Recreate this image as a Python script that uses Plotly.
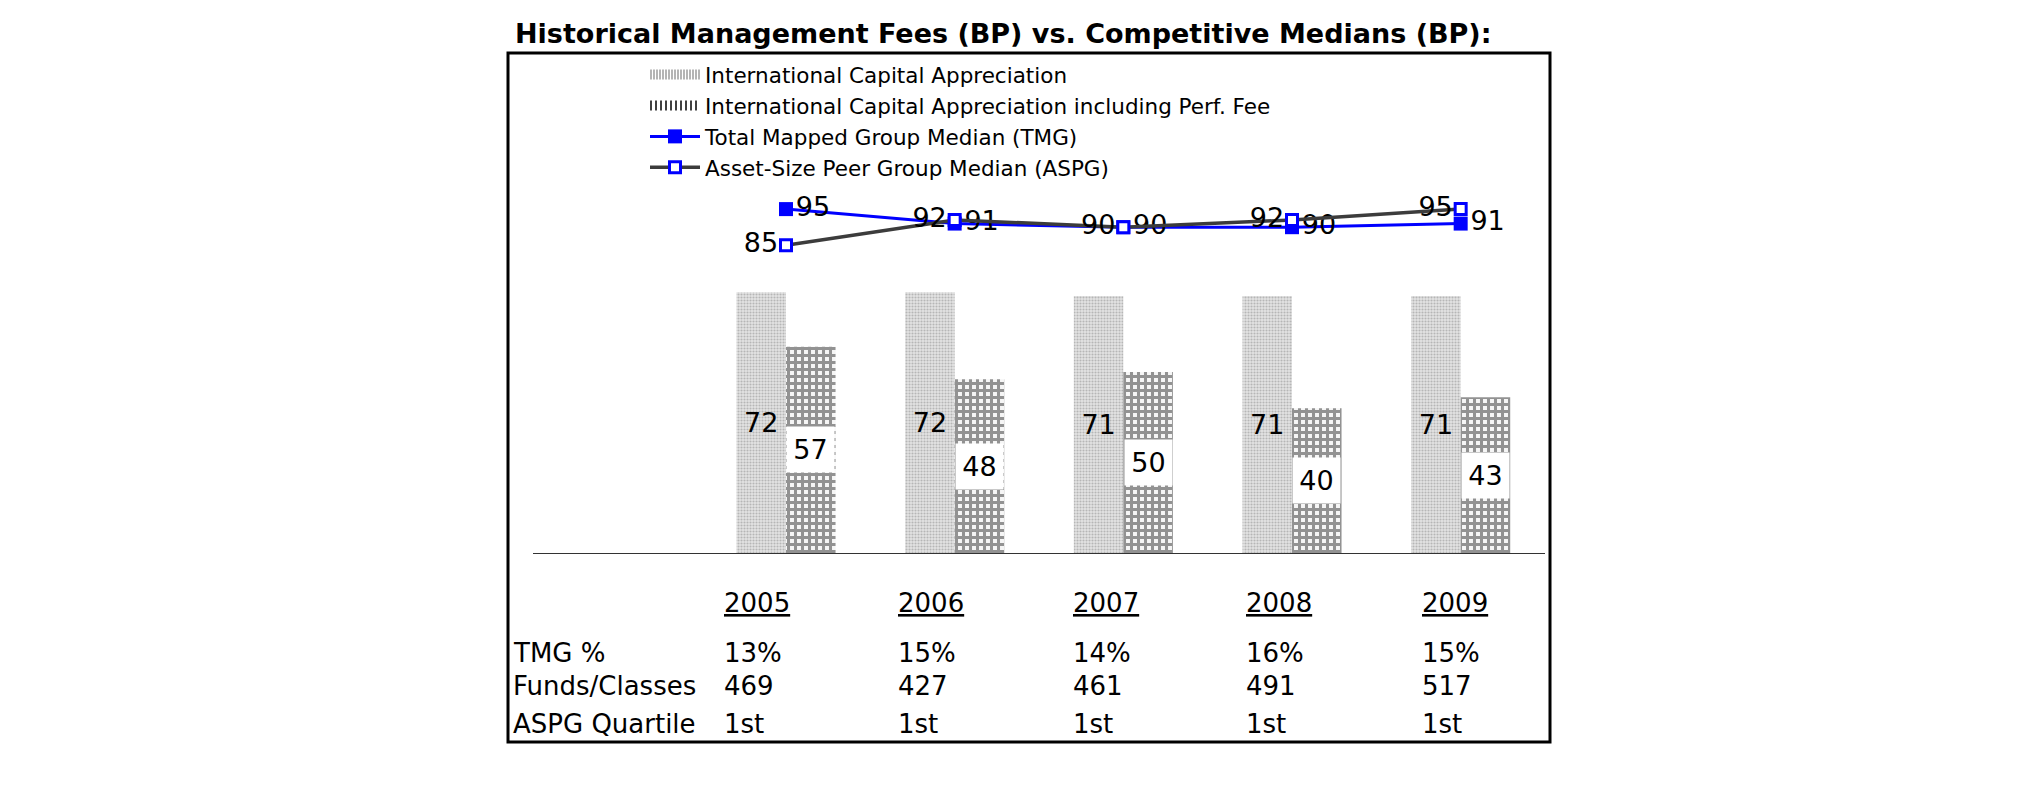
import plotly.graph_objects as go

# ---------------- data ----------------
years = ["2005", "2006", "2007", "2008", "2009"]
ica = [72, 72, 71, 71, 71]                 # International Capital Appreciation
ica_perf = [57, 48, 50, 40, 43]            # incl. Perf. Fee
tmg = [95, 91, 90, 90, 91]                 # Total Mapped Group Median
aspg = [85, 92, 90, 92, 95]                # Asset-Size Peer Group Median
tmg_pct = ["13%", "15%", "14%", "16%", "15%"]
funds = ["469", "427", "461", "491", "517"]
quartile = ["1st", "1st", "1st", "1st", "1st"]
row_labels = ["TMG %", "Funds/Classes", "ASPG Quartile"]
series_names = ["International Capital Appreciation",
                "International Capital Appreciation including Perf. Fee",
                "Total Mapped Group Median (TMG)",
                "Asset-Size Peer Group Median (ASPG)"]

W, H = 2025, 806
OFF = 8  # page offset of the plot div
FONT = "DejaVu Sans"
LABEL_SIZE = 27


def px(x):
    return (x - OFF) / W


def py(y):
    return 1 - (y - OFF) / H


fig = go.Figure()

# legend-only swatches for the two bar series (wide patterned look)
fig.add_trace(go.Scatter(
    name=series_names[0], x=[None], y=[None], mode="lines",
    line=dict(color="#b4b4b4", width=14, dash="2px,1px"), hoverinfo="skip"))
fig.add_trace(go.Scatter(
    name=series_names[1], x=[None], y=[None], mode="lines",
    line=dict(color="#404040", width=14, dash="2px,3px"), hoverinfo="skip"))

fig.add_trace(go.Bar(
    name=series_names[0], showlegend=False,
    x=years, y=ica, text=[str(v) for v in ica],
    textposition="inside", insidetextanchor="middle", textangle=0,
    textfont=dict(family=FONT, size=LABEL_SIZE, color="black"),
    marker=dict(color="#dddddd", line=dict(width=0),
                pattern=dict(shape=".", fgcolor="#888888", bgcolor="#e4e4e4",
                             size=3, solidity=0.4)),
    cliponaxis=False,
))
fig.add_trace(go.Bar(
    name=series_names[1], showlegend=False,
    x=years, y=ica_perf,
    marker=dict(color="#f0f0f0", line=dict(width=0),
                pattern=dict(shape="+", fgcolor="#2e2e2e", bgcolor="#f6f6f6",
                             size=7, solidity=0.68)),
))
fig.add_trace(go.Scatter(
    name=series_names[2],
    x=years, y=tmg, mode="lines+markers+text",
    text=[str(v) for v in tmg], textposition="middle right",
    textfont=dict(family=FONT, size=LABEL_SIZE, color="black"),
    line=dict(color="#0000ff", width=3),
    marker=dict(symbol="square", size=14, color="#0000ff"),
    cliponaxis=False,
))
fig.add_trace(go.Scatter(
    name=series_names[3],
    x=years, y=aspg, mode="lines+markers+text",
    text=[str(v) for v in aspg], textposition="middle left",
    textfont=dict(family=FONT, size=LABEL_SIZE, color="black"),
    line=dict(color="#3c3c3c", width=3.5),
    marker=dict(symbol="square", size=11, color="white",
                line=dict(color="#0000ff", width=3)),
    cliponaxis=False,
))

annotations = []
# white-boxed labels on the second bar of each group
for i, v in enumerate(ica_perf):
    annotations.append(dict(
        xref="x", yref="y", x=i, y=v / 2, xshift=24.75,
        text=str(v), showarrow=False, bgcolor="white",
        width=47, height=45, borderpad=0,
        font=dict(family=FONT, size=LABEL_SIZE, color="black")))

# title
annotations.append(dict(
    xref="paper", yref="paper", x=px(513), y=py(33), xanchor="left", yanchor="middle",
    text="<b>Historical Management Fees (BP) vs. Competitive Medians (BP):</b>",
    showarrow=False, font=dict(family=FONT, size=27, color="black")))

# table below the chart
col_x = [722, 896, 1071, 1244, 1420]
for cx, yr in zip(col_x, years):
    annotations.append(dict(
        xref="paper", yref="paper", x=px(cx), y=py(603), xanchor="left", yanchor="middle",
        text="<u>" + yr + "</u>", showarrow=False,
        font=dict(family=FONT, size=26, color="black")))
row_y = [653, 686, 724]
rows = [tmg_pct, funds, quartile]
for ry, lab, vals in zip(row_y, row_labels, rows):
    annotations.append(dict(
        xref="paper", yref="paper", x=px(511), y=py(ry), xanchor="left", yanchor="middle",
        text=lab, showarrow=False, font=dict(family=FONT, size=26, color="black")))
    for cx, v in zip(col_x, vals):
        annotations.append(dict(
            xref="paper", yref="paper", x=px(cx), y=py(ry), xanchor="left", yanchor="middle",
            text=v, showarrow=False, font=dict(family=FONT, size=26, color="black")))

fig.update_layout(
    width=W, height=H,
    margin=dict(l=0, r=0, t=0, b=0),
    paper_bgcolor="white", plot_bgcolor="white",
    barmode="group", bargap=0.4125, bargroupgap=0,
    font=dict(family=FONT, color="black"),
    xaxis=dict(type="category", domain=[px(533), px(1545)], range=[-1.5, 4.5],
               showticklabels=False, showgrid=False, zeroline=False,
               showline=True, linecolor="#333333", linewidth=1, ticks=""),
    yaxis=dict(domain=[py(553), py(191)], range=[0, 100], visible=False),
    showlegend=True,
    legend=dict(x=px(645), y=py(54), xanchor="left", yanchor="top",
                bgcolor="rgba(0,0,0,0)", itemwidth=50, tracegroupgap=0,
                font=dict(family=FONT, size=21.5, color="black"),
                traceorder="normal"),
    shapes=[dict(type="rect", xref="paper", yref="paper",
                 x0=px(508), x1=px(1550), y0=py(742), y1=py(53),
                 line=dict(color="black", width=3), fillcolor="rgba(0,0,0,0)")],
    annotations=annotations,
)

fig.write_html("out.html")
